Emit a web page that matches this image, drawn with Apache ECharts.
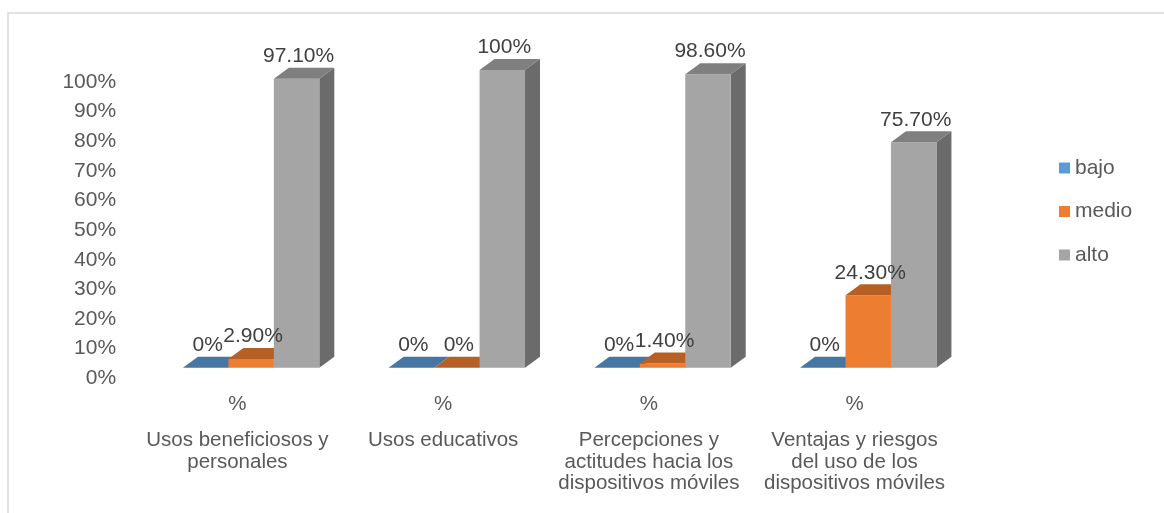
<!DOCTYPE html>
<html>
<head>
<meta charset="utf-8">
<title>Niveles por dimensión</title>
<script src="https://cdn.jsdelivr.net/npm/echarts@6/dist/echarts.min.js"></script>
<style>
  html, body { margin: 0; padding: 0; background: #ffffff; }
  #chart { width: 1164px; height: 513px; }
</style>
</head>
<body>
<div id="chart"></div>
<script>
// Dimensions on the category axis (line breaks as they wrap under each group)
const categories = [
  'Usos beneficiosos y\npersonales',
  'Usos educativos',
  'Percepciones y\nactitudes hacia los\ndispositivos móviles',
  'Ventajas y riesgos\ndel uso de los\ndispositivos móviles'
];
const subLabel = '%';

// Percentage of respondents per level
const bajo  = [0, 0, 0, 0];
const medio = [2.9, 0, 1.4, 24.3];
const alto  = [97.1, 100, 98.6, 75.7];

const levelNames = ['bajo', 'medio', 'alto'];
const levelValues = [bajo, medio, alto];
const levelColors = ['#5B9BD5', '#ED7D31', '#A5A5A5'];

const yTicks = { min: 0, max: 100, interval: 10 };

// 3D box geometry (pixels / fractions of a category band)
const DEPTH_X = 15;
const DEPTH_Y = 11;
const GROUP_OFFSET = -0.265;
const BAR_FRACTION = 0.221;

function shade(hex, k) {
  const n = parseInt(hex.slice(1), 16);
  const r = Math.round(((n >> 16) & 255) * k);
  const g = Math.round(((n >> 8) & 255) * k);
  const b = Math.round((n & 255) * k);
  return 'rgb(' + r + ',' + g + ',' + b + ')';
}

function fmtPct(v) {
  return (Number.isInteger(v) ? String(v) : v.toFixed(2)) + '%';
}

function makeRenderer(levelIndex, color) {
  const topColor = shade(color, 0.77);
  const sideColor = shade(color, 0.65);
  return function (params, api) {
    const cat = api.value(0);
    const val = api.value(1);
    const base = api.coord([cat, 0]);
    const top = api.coord([cat, val]);
    const band = api.size([1, 0])[0];
    const w = band * BAR_FRACTION;
    const x0 = base[0] + band * GROUP_OFFSET + levelIndex * w;
    const x1 = x0 + w;
    const yb = base[1];
    const yt = top[1];
    return {
      type: 'group',
      children: [
        {
          type: 'polygon',
          shape: { points: [[x1, yb], [x1, yt], [x1 + DEPTH_X, yt - DEPTH_Y], [x1 + DEPTH_X, yb - DEPTH_Y]] },
          style: { fill: sideColor }
        },
        {
          type: 'rect',
          shape: { x: x0, y: yt, width: w, height: Math.max(yb - yt, 0) },
          style: { fill: color }
        },
        {
          type: 'polygon',
          shape: { points: [[x0, yt], [x1, yt], [x1 + DEPTH_X, yt - DEPTH_Y], [x0 + DEPTH_X, yt - DEPTH_Y]] },
          style: { fill: topColor }
        },
        {
          // value label, kept above every box
          type: 'text',
          z2: 100,
          x: x0 + w / 2 + 2,
          y: yt - DEPTH_Y - 11.5,
          style: {
            text: fmtPct(val),
            fill: '#404040',
            font: '21px "Liberation Sans", Arial, sans-serif',
            align: 'center',
            verticalAlign: 'middle'
          }
        }
      ]
    };
  };
}

const chart = echarts.init(document.getElementById('chart'), null, { renderer: 'canvas' });

const series = levelNames.map(function (name, i) {
  return {
    name: name,
    type: 'custom',
    coordinateSystem: 'cartesian2d',
    xAxisIndex: 0,
    yAxisIndex: 1,
    itemStyle: { color: levelColors[i] },
    encode: { x: 0, y: 1 },
    data: levelValues[i].map(function (v, c) { return [c, v]; }),
    renderItem: makeRenderer(i, levelColors[i])
  };
});

chart.setOption({
  animation: false,
  backgroundColor: '#ffffff',
  textStyle: { fontFamily: '"Liberation Sans", Arial, sans-serif' },
  graphic: [
    {
      type: 'polyline',
      shape: { points: [[8, 520], [8, 13], [1170, 13]] },
      style: { stroke: '#D9D9D9', lineWidth: 1.5, fill: null },
      silent: true
    }
  ],
  grid: { left: 134.6, right: 206.6, top: 82, height: 296.3, containLabel: false },
  legend: {
    orient: 'vertical',
    left: 1054,
    top: 152,
    padding: 5,
    itemWidth: 11,
    itemHeight: 11,
    itemGap: 21.5,
    icon: 'rect',
    data: levelNames,
    textStyle: { fontSize: 21, color: '#595959', lineHeight: 22 }
  },
  xAxis: {
    type: 'category',
    data: categories,
    axisLine: { show: false },
    axisTick: { show: false },
    splitLine: { show: false },
    axisLabel: {
      interval: 0,
      margin: 1.5,
      formatter: function (v) {
        return '{p|' + subLabel + '}\n{c|' + v + '}';
      },
      rich: {
        p: { fontSize: 20.5, lineHeight: 50, color: '#595959', align: 'center' },
        c: { fontSize: 20.5, lineHeight: 21.5, color: '#595959', align: 'center' }
      }
    }
  },
  yAxis: [
    {
      type: 'value',
      min: yTicks.min,
      max: yTicks.max,
      interval: yTicks.interval,
      axisLine: { show: false },
      axisTick: { show: false },
      splitLine: { show: false },
      axisLabel: { formatter: '{value}%', fontSize: 21, color: '#595959', margin: 18.5 }
    },
    {
      // front-face scale of the 3D bars (floor sits slightly above the 0% label)
      type: 'value',
      min: -3.56,
      max: 95.97,
      show: false,
      splitLine: { show: false }
    }
  ],
  series: series
});
</script>
</body>
</html>
